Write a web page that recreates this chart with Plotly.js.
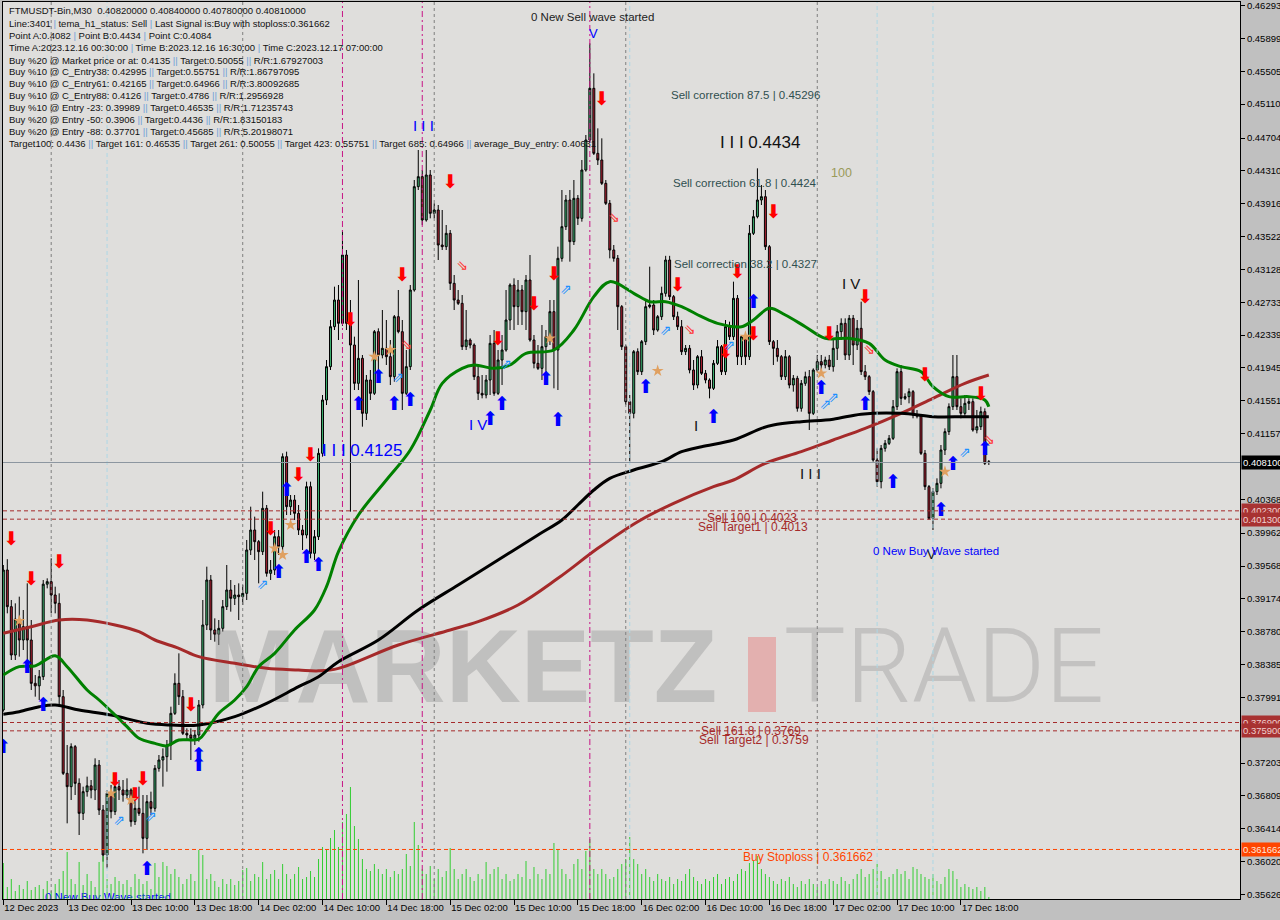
<!DOCTYPE html>
<html><head><meta charset="utf-8">
<script src="https://cdn.plot.ly/plotly-3.0.1.min.js"></script>
<style>html,body{margin:0;padding:0;background:#c0c0c0;overflow:hidden}#chart{width:1280px;height:920px}</style>
</head><body><div id="chart"></div>
<script>
// ---------- DATA ----------
const timeTickIndex = [0,16,32,48,64,80,96,112,128,144,160,176,192,208,224,240];
const timeTickLabels = ["12 Dec 2023","13 Dec 02:00","13 Dec 10:00","13 Dec 18:00","14 Dec 02:00","14 Dec 10:00","14 Dec 18:00","15 Dec 02:00","15 Dec 10:00","15 Dec 18:00","16 Dec 02:00","16 Dec 10:00","16 Dec 18:00","17 Dec 02:00","17 Dec 10:00","17 Dec 18:00"];
const priceTicks = [0.46293,0.45899,0.45505,0.45110,0.44704,0.44310,0.43916,0.43522,0.43128,0.42733,0.42339,0.41945,0.41551,0.41157,0.40368,0.39962,0.39568,0.39174,0.38780,0.38385,0.37991,0.37203,0.36809,0.36414,0.36020,0.35626];

const openP = [0.3784,0.3952,0.3908,0.3850,0.3893,0.3868,0.3884,0.3868,0.3816,0.3813,0.3824,0.3935,0.3938,0.3922,0.3912,0.3800,0.3708,0.3692,0.3740,0.3696,0.3660,0.3686,0.3693,0.3688,0.3718,0.3664,0.3610,0.3684,0.3662,0.3692,0.3688,0.3682,0.3688,0.3650,0.3666,0.3660,0.3630,0.3674,0.3666,0.3714,0.3724,0.3728,0.3742,0.3780,0.3816,0.3800,0.3756,0.3754,0.3750,0.3754,0.3790,0.3886,0.3940,0.3880,0.3875,0.3882,0.3908,0.3928,0.3918,0.3922,0.3920,0.3924,0.3976,0.4000,0.3986,0.3974,0.4026,0.3948,0.3952,0.3992,0.3980,0.4088,0.4028,0.4036,0.4020,0.4000,0.3994,0.4052,0.3972,0.3992,0.4092,0.4156,0.4196,0.4244,0.4276,0.4248,0.4330,0.4248,0.4222,0.4176,0.4206,0.4140,0.4180,0.4164,0.4238,0.4210,0.4218,0.4208,0.4184,0.4256,0.4238,0.4164,0.4196,0.4288,0.4412,0.4424,0.4372,0.4426,0.4380,0.4384,0.4342,0.4340,0.4356,0.4296,0.4276,0.4272,0.4220,0.4228,0.4222,0.4184,0.4164,0.4162,0.4180,0.4224,0.4164,0.4204,0.4216,0.4252,0.4294,0.4268,0.4288,0.4262,0.4300,0.4228,0.4200,0.4194,0.4220,0.4232,0.4262,0.4216,0.4326,0.4364,0.4396,0.4346,0.4398,0.4374,0.4432,0.4468,0.4530,0.4452,0.4444,0.4416,0.4392,0.4336,0.4326,0.4268,0.4220,0.4154,0.4140,0.4214,0.4190,0.4226,0.4268,0.4270,0.4240,0.4256,0.4284,0.4324,0.4280,0.4256,0.4244,0.4214,0.4218,0.4192,0.4174,0.4208,0.4188,0.4180,0.4170,0.4200,0.4220,0.4190,0.4244,0.4232,0.4278,0.4208,0.4232,0.4208,0.4356,0.4376,0.4396,0.4400,0.4340,0.4226,0.4218,0.4208,0.4184,0.4208,0.4174,0.4182,0.4146,0.4176,0.4184,0.4140,0.4192,0.4202,0.4198,0.4204,0.4196,0.4218,0.4238,0.4248,0.4210,0.4254,0.4222,0.4242,0.4190,0.4184,0.4166,0.4084,0.4058,0.4098,0.4104,0.4110,0.4148,0.4190,0.4158,0.4160,0.4166,0.4138,0.4137,0.4092,0.4052,0.4014,0.4046,0.4056,0.4096,0.4118,0.4148,0.4184,0.4148,0.4140,0.4152,0.4154,0.4120,0.4124,0.4142,0.4082];
const highP = [0.3958,0.3965,0.3916,0.3912,0.3920,0.3904,0.3936,0.3892,0.3826,0.3832,0.3940,0.3942,0.3966,0.3932,0.3924,0.3808,0.3742,0.3744,0.3742,0.3702,0.3692,0.3704,0.3700,0.3726,0.3724,0.3670,0.3688,0.3694,0.3698,0.3700,0.3700,0.3702,0.3690,0.3682,0.3692,0.3682,0.3682,0.3686,0.3718,0.3730,0.3738,0.3748,0.3788,0.3828,0.3852,0.3808,0.3762,0.3762,0.3760,0.3796,0.3916,0.3956,0.3946,0.3894,0.3892,0.3916,0.3958,0.3940,0.3934,0.3936,0.3934,0.3988,0.4028,0.4016,0.3988,0.4046,0.4030,0.3964,0.4000,0.4000,0.4092,0.4094,0.4042,0.4042,0.4030,0.4006,0.4058,0.4058,0.4000,0.4098,0.4162,0.4204,0.4252,0.4292,0.4294,0.4360,0.4336,0.4276,0.4232,0.4300,0.4210,0.4186,0.4192,0.4240,0.4242,0.4264,0.4252,0.4228,0.4258,0.4288,0.4252,0.4216,0.4294,0.4420,0.4456,0.4432,0.4456,0.4432,0.4392,0.4390,0.4384,0.4366,0.4360,0.4306,0.4288,0.4282,0.4264,0.4230,0.4224,0.4198,0.4186,0.4186,0.4234,0.4240,0.4216,0.4234,0.4288,0.4296,0.4302,0.4300,0.4294,0.4306,0.4330,0.4234,0.4222,0.4246,0.4240,0.4276,0.4276,0.4340,0.4408,0.4402,0.4408,0.4420,0.4402,0.4444,0.4474,0.4584,0.4548,0.4482,0.4470,0.4420,0.4396,0.4342,0.4330,0.4270,0.4222,0.4162,0.4216,0.4218,0.4228,0.4276,0.4316,0.4276,0.4258,0.4292,0.4329,0.4329,0.4282,0.4262,0.4252,0.4222,0.4222,0.4204,0.4210,0.4216,0.4192,0.4182,0.4204,0.4228,0.4222,0.4252,0.4250,0.4298,0.4282,0.4234,0.4234,0.4366,0.4384,0.4434,0.4414,0.4408,0.4342,0.4228,0.4228,0.4210,0.4216,0.4210,0.4186,0.4185,0.4180,0.4190,0.4192,0.4194,0.4210,0.4210,0.4208,0.4210,0.4228,0.4246,0.4254,0.4254,0.4258,0.4258,0.4252,0.4274,0.4198,0.4186,0.4168,0.4098,0.4102,0.4108,0.4114,0.4156,0.4194,0.4198,0.4164,0.4170,0.4168,0.4144,0.4139,0.4096,0.4054,0.4050,0.4062,0.4102,0.4122,0.4152,0.4210,0.4210,0.4158,0.4162,0.4158,0.4158,0.4144,0.4148,0.4146,0.4084];
const lowP = [0.3782,0.3900,0.3844,0.3844,0.3848,0.3856,0.3842,0.3808,0.3800,0.3796,0.3820,0.3930,0.3900,0.3900,0.3788,0.3706,0.3648,0.3676,0.3682,0.3634,0.3652,0.3680,0.3678,0.3676,0.3658,0.3602,0.3594,0.3654,0.3658,0.3676,0.3674,0.3678,0.3644,0.3646,0.3657,0.3612,0.3616,0.3658,0.3662,0.3710,0.3692,0.3710,0.3724,0.3778,0.3790,0.3754,0.3748,0.3724,0.3742,0.3746,0.3786,0.3880,0.3868,0.3866,0.3862,0.3878,0.3904,0.3902,0.3910,0.3892,0.3910,0.3916,0.3970,0.3964,0.3936,0.3970,0.3944,0.3940,0.3946,0.3970,0.3968,0.4018,0.4018,0.4012,0.3994,0.3976,0.3990,0.3966,0.3964,0.3988,0.4088,0.4150,0.4192,0.4240,0.4228,0.4245,0.4240,0.4022,0.4168,0.4168,0.4124,0.4132,0.4156,0.4162,0.4186,0.4206,0.4198,0.4174,0.4178,0.4236,0.4144,0.4162,0.4192,0.4286,0.4408,0.4366,0.4370,0.4374,0.4374,0.4324,0.4336,0.4336,0.4288,0.4264,0.4270,0.4216,0.4216,0.4218,0.4180,0.4156,0.4158,0.4158,0.4162,0.4161,0.4162,0.4174,0.4214,0.4240,0.4240,0.4246,0.4246,0.4240,0.4226,0.4194,0.4192,0.4180,0.4180,0.4222,0.4170,0.4168,0.4322,0.4360,0.4322,0.4342,0.4366,0.4370,0.4430,0.4466,0.4450,0.4438,0.4414,0.4390,0.4326,0.4322,0.4240,0.4216,0.4150,0.4082,0.4134,0.4186,0.4186,0.4222,0.4266,0.4234,0.4238,0.4252,0.4280,0.4276,0.4252,0.4240,0.4210,0.4210,0.4188,0.4168,0.4170,0.4186,0.4176,0.4158,0.4168,0.4198,0.4186,0.4186,0.4228,0.4228,0.4198,0.4198,0.4198,0.4204,0.4354,0.4374,0.4390,0.4336,0.4222,0.4198,0.4202,0.4180,0.4180,0.4170,0.4166,0.4142,0.4142,0.4173,0.4120,0.4138,0.4190,0.4190,0.4194,0.4192,0.4190,0.4204,0.4228,0.4204,0.4204,0.4198,0.4216,0.4186,0.4180,0.4162,0.4082,0.4052,0.4050,0.4094,0.4102,0.4108,0.4144,0.4150,0.4156,0.4152,0.4134,0.4134,0.4090,0.4048,0.4012,0.4000,0.4042,0.4050,0.4090,0.4114,0.4144,0.4144,0.4134,0.4137,0.4144,0.4118,0.4116,0.4120,0.4078,0.4078];
const closeP = [0.3952,0.3908,0.3850,0.3893,0.3868,0.3884,0.3868,0.3816,0.3813,0.3824,0.3935,0.3938,0.3922,0.3912,0.3800,0.3708,0.3692,0.3740,0.3696,0.3660,0.3686,0.3693,0.3688,0.3718,0.3664,0.3610,0.3684,0.3662,0.3692,0.3688,0.3682,0.3688,0.3650,0.3666,0.3660,0.3630,0.3674,0.3666,0.3714,0.3724,0.3728,0.3742,0.3780,0.3816,0.3800,0.3756,0.3754,0.3750,0.3754,0.3790,0.3886,0.3940,0.3880,0.3875,0.3882,0.3908,0.3928,0.3918,0.3922,0.3920,0.3924,0.3976,0.4000,0.3986,0.3974,0.4026,0.3948,0.3952,0.3992,0.3980,0.4088,0.4028,0.4036,0.4020,0.4000,0.3994,0.4052,0.3972,0.3992,0.4092,0.4156,0.4196,0.4244,0.4276,0.4248,0.4330,0.4248,0.4222,0.4176,0.4206,0.4140,0.4180,0.4164,0.4238,0.4210,0.4218,0.4208,0.4184,0.4256,0.4238,0.4164,0.4196,0.4288,0.4412,0.4424,0.4372,0.4426,0.4380,0.4384,0.4342,0.4340,0.4356,0.4296,0.4276,0.4272,0.4220,0.4228,0.4222,0.4184,0.4164,0.4162,0.4180,0.4224,0.4164,0.4204,0.4216,0.4252,0.4294,0.4268,0.4288,0.4262,0.4300,0.4228,0.4200,0.4194,0.4220,0.4232,0.4262,0.4216,0.4326,0.4364,0.4396,0.4346,0.4398,0.4374,0.4432,0.4468,0.4530,0.4452,0.4444,0.4416,0.4392,0.4336,0.4326,0.4268,0.4220,0.4154,0.4140,0.4214,0.4190,0.4226,0.4268,0.4270,0.4240,0.4256,0.4284,0.4324,0.4280,0.4256,0.4244,0.4214,0.4218,0.4192,0.4174,0.4208,0.4188,0.4180,0.4170,0.4200,0.4220,0.4190,0.4244,0.4232,0.4278,0.4208,0.4232,0.4208,0.4356,0.4376,0.4396,0.4400,0.4340,0.4226,0.4218,0.4208,0.4184,0.4208,0.4174,0.4182,0.4146,0.4176,0.4184,0.4140,0.4192,0.4202,0.4198,0.4204,0.4196,0.4218,0.4238,0.4248,0.4210,0.4254,0.4222,0.4242,0.4190,0.4184,0.4166,0.4084,0.4058,0.4098,0.4104,0.4110,0.4148,0.4190,0.4158,0.4160,0.4166,0.4138,0.4137,0.4092,0.4052,0.4014,0.4046,0.4056,0.4096,0.4118,0.4148,0.4184,0.4148,0.4140,0.4152,0.4154,0.4120,0.4124,0.4142,0.4080,0.4081];
const volume = [36,12,20,8,14,10,18,9, 12,14,10,18,8,15,20,28, 47,20,15,37,14,25,18,12, 37,43,20,15,22,18,15,19, 12,25,20,15,18,10,36,22, 37,33,25,30,22,15,20,25, 18,49,44,20,25,18,12,20, 15,20,14,18,29,31,18,25, 22,37,20,25,29,20,35,25, 20,25,32,20,22,28,22,40, 52,50,61,69,52,77,85,112, 73,60,40,30,28,35,30,25, 30,22,28,25,30,45,33,77, 54,30,25,33,20,30,22,28, 51,30,20,25,30,22,18,25, 20,37,25,30,32,20,25,18, 20,25,22,38,20,32,25,20, 30,25,56,50,30,25,20,35, 40,30,48,60,30,25,30,25, 20,22,30,35,40,62,40,35, 25,30,22,18,25,20,18,22, 15,20,18,25,30,22,18,15, 20,18,22,25,15,20,22,18, 25,30,28,36,38,43,30,25, 22,18,15,20,18,22,15,12, 18,15,20,15,12,18,15,20, 18,15,22,18,15,20,25,30, 22,25,30,35,28,20,22,25, 30,25,28,20,32,30,25,22, 20,25,18,15,22,30,28,20, 12,15,12,10,12,8,12,2];

// moving averages read at sample candles
const fastMaIdx = [0,4,8,13,16,21,24,28,31,34,38,41,44,49,51,54,58,61,64,68,73,78,81,84,89,96,102,107,110,115,118,123,127,131,138,143,148,152,158,162,166,170,175,179,185,188,192,196,201,206,212,217,221,225,230,233,237,242,246,247];
const fastMa = [0.3826,0.3836,0.3837,0.3849,0.3836,0.3808,0.3796,0.3778,0.3764,0.3750,0.3744,0.3741,0.3748,0.3749,0.3760,0.3780,0.3796,0.3812,0.3836,0.3852,0.3880,0.3904,0.3932,0.3974,0.4018,0.4060,0.4096,0.4144,0.4176,0.4194,0.4198,0.4194,0.4198,0.4212,0.4216,0.4240,0.4280,0.4298,0.4284,0.4274,0.4274,0.4268,0.4256,0.4248,0.4244,0.4252,0.4266,0.4258,0.4244,0.4230,0.4230,0.4224,0.4204,0.4196,0.4190,0.4172,0.4160,0.4160,0.4156,0.4148];
const midMaIdx = [0,4,9,13,19,27,36,42,49,58,66,74,79,84,94,104,114,124,134,140,144,148,152,158,165,170,175,183,190,193,200,208,215,225,233,241,247];
const midMa = [0.3779,0.3782,0.3788,0.3790,0.3784,0.3778,0.3768,0.3766,0.3766,0.3776,0.3792,0.3812,0.3824,0.3842,0.3868,0.3904,0.3934,0.3964,0.3994,0.4012,0.4030,0.4048,0.4062,0.4072,0.4082,0.4094,0.4100,0.4108,0.4122,0.4126,0.4130,0.4133,0.4139,0.4140,0.4136,0.4136,0.4136];
const slowMaIdx = [0,7,14,21,28,34,38,44,49,58,66,74,79,84,99,112,119,129,139,149,159,168,178,183,191,200,208,216,225,233,241,247];
const slowMa = [0.3876,0.3884,0.3892,0.3892,0.3886,0.3878,0.3868,0.3858,0.3848,0.3840,0.3834,0.3832,0.3831,0.3834,0.3862,0.3880,0.3890,0.3910,0.3942,0.3978,0.4010,0.4032,0.4052,0.4060,0.4080,0.4094,0.4108,0.4122,0.4140,0.4158,0.4176,0.4186];

// signal arrows
const sellArrowIdx = [2,7,14,28,33,35,47,67,74,77,87,100,112,124,133,138,150,169,181,184,188,193,207,216,231,245];
const sellArrowPrice = [0.3988,0.3940,0.3960,0.3698,0.3680,0.3700,0.3788,0.4000,0.4064,0.4088,0.4250,0.4305,0.4416,0.4228,0.4270,0.4306,0.4516,0.4292,0.4212,0.4308,0.4234,0.4380,0.4234,0.4278,0.4184,0.4162];
const buyArrowIdx = [0,6,10,36,49,49,69,71,76,79,89,94,98,102,122,125,136,139,161,178,188,205,216,223,235,238,246];
const buyArrowPrice = [0.3738,0.3834,0.3788,0.3592,0.3728,0.3716,0.3948,0.4046,0.3966,0.3956,0.4150,0.4182,0.4150,0.4154,0.4132,0.4150,0.4180,0.4130,0.4170,0.4134,0.4272,0.4169,0.4150,0.4056,0.4022,0.4078,0.4096];
const buyHollowIdx = [29,37,65,99,126,141,166,182,206,208,241];
const buyHollowPrice = [0.3650,0.3655,0.3934,0.4182,0.4198,0.4288,0.4238,0.4220,0.4150,0.4158,0.4092];
const sellHollowIdx = [101,115,153,172,217,247];
const sellHollowPrice = [0.4222,0.4316,0.4374,0.4240,0.4216,0.4108];
const starIdx = [4,27,32,68,70,72,93,97,137,164,186,205,236];
const starPrice = [0.3891,0.3684,0.3676,0.3978,0.3970,0.4006,0.4208,0.4216,0.4230,0.4191,0.4232,0.4188,0.4070];

// levels
const currentPrice = 0.4081;
const sellLevels = [0.4023,0.4013,0.3769,0.3759];
const sellLevelText = ["0.402300","0.401300","0.376900","0.375900"];
const buyStop = 0.361662;
const dayGridIdx = [12,60,108,156,204];
const waveLineIdx = [85,105,147];
const pointLineIdx = [26,157,219,233];

const infoLines = [
 "FTMUSDT-Bin,M30  0.40820000 0.40840000 0.40780000 0.40810000",
 "Line:3401 | tema_h1_status: Sell | Last Signal is:Buy with stoploss:0.361662",
 "Point A:0.4082 | Point B:0.4434 | Point C:0.4084",
 "Time A:2023.12.16 00:30:00 | Time B:2023.12.16 16:30:00 | Time C:2023.12.17 07:00:00",
 "Buy %20 @ Market price or at: 0.4135 || Target:0.50055 || R/R:1.67927003",
 "Buy %10 @ C_Entry38: 0.42995 || Target:0.55751 || R/R:1.86797095",
 "Buy %10 @ C_Entry61: 0.42165 || Target:0.64966 || R/R:3.80092685",
 "Buy %10 @ C_Entry88: 0.4126 || Target:0.4786 || R/R:1.2956928",
 "Buy %10 @ Entry -23: 0.39989 || Target:0.46535 || R/R:1.71235743",
 "Buy %20 @ Entry -50: 0.3906 || Target:0.4436 || R/R:1.83150183",
 "Buy %20 @ Entry -88: 0.37701 || Target:0.45685 || R/R:5.20198071",
 "Target100: 0.4436 || Target 161: 0.46535 || Target 261: 0.50055 || Target 423: 0.55751 || Target 685: 0.64966 || average_Buy_entry: 0.40631"
];

// ---------- LAYOUT HELPERS (pixel -> data for text placement) ----------
const PLOT_L=3, PLOT_T=2, PLOT_W=1237, PLOT_H=897;
const X_RANGE=[-0.08,309.95], Y_RANGE=[0.35572,0.46336];
const ix = px => X_RANGE[0] + (px-PLOT_L)/PLOT_W*(X_RANGE[1]-X_RANGE[0]);
const iy = py => Y_RANGE[1] - (py-PLOT_T)/PLOT_H*(Y_RANGE[1]-Y_RANGE[0]);
const FONT = "Liberation Sans, Arial, sans-serif";

const candleIdx = openP.map((_,i)=>i);

const traces = [];
// watermark (below everything)
traces.push({type:'scatter',mode:'text',x:[ix(463)],y:[iy(676)],text:['<b>MARKETZ</b>'],
  textfont:{family:FONT,size:104,color:'rgba(150,150,150,0.42)'},hoverinfo:'skip',cliponaxis:false,showlegend:false});
traces.push({type:'scatter',mode:'text',x:[ix(944)],y:[iy(676)],text:['TRADE'],
  textfont:{family:'Roboto, Liberation Sans, sans-serif',size:104,weight:300,color:'rgba(150,150,150,0.38)'},hoverinfo:'skip',cliponaxis:false,showlegend:false});
// volume
traces.push({type:'bar',x:candleIdx,y:volume,yaxis:'y2',width:0.25,marker:{color:'#32cd32',line:{width:0}},hoverinfo:'skip',showlegend:false});
// candles
traces.push({type:'candlestick',x:candleIdx,open:openP,high:highP,low:lowP,close:closeP,
  increasing:{line:{color:'#000000',width:1},fillcolor:'#3cb371'},
  decreasing:{line:{color:'#000000',width:1},fillcolor:'#b22234'},
  whiskerwidth:0,hoverinfo:'skip',showlegend:false});
// MAs
traces.push({type:'scatter',mode:'lines',x:slowMaIdx,y:slowMa,line:{color:'#a52a2a',width:3,shape:'spline'},hoverinfo:'skip',showlegend:false});
traces.push({type:'scatter',mode:'lines',x:midMaIdx,y:midMa,line:{color:'#000000',width:3,shape:'spline'},hoverinfo:'skip',showlegend:false});
traces.push({type:'scatter',mode:'lines',x:fastMaIdx,y:fastMa,line:{color:'#008000',width:3,shape:'spline'},hoverinfo:'skip',showlegend:false});
// signals
traces.push({type:'scatter',mode:'text',x:sellArrowIdx,y:sellArrowPrice,text:sellArrowIdx.map(()=>'⬇'),
  textfont:{family:'DejaVu Sans',size:19,color:'#ff0000'},hoverinfo:'skip',showlegend:false});
traces.push({type:'scatter',mode:'text',x:buyArrowIdx,y:buyArrowPrice,text:buyArrowIdx.map(()=>'⬆'),
  textfont:{family:'DejaVu Sans',size:19,color:'#0000ff'},hoverinfo:'skip',showlegend:false});
traces.push({type:'scatter',mode:'text',x:buyHollowIdx,y:buyHollowPrice,text:buyHollowIdx.map(()=>'⇗'),
  textfont:{family:'DejaVu Sans',size:14,color:'#1e90ff'},hoverinfo:'skip',showlegend:false});
traces.push({type:'scatter',mode:'text',x:sellHollowIdx,y:sellHollowPrice,text:sellHollowIdx.map(()=>'⇘'),
  textfont:{family:'DejaVu Sans',size:14,color:'#ff3030'},hoverinfo:'skip',showlegend:false});
traces.push({type:'scatter',mode:'markers',x:starIdx,y:starPrice,marker:{symbol:'star',size:9,color:'#e0a060',line:{width:0}},hoverinfo:'skip',showlegend:false});
// clipped bottom label
traces.push({type:'scatter',mode:'text',x:[ix(108)],y:[iy(898)],text:['0 New Buy Wave started'],
  textfont:{family:FONT,size:11.5,color:'#0000ff'},cliponaxis:true,hoverinfo:'skip',showlegend:false});

// ---------- SHAPES ----------
const shapes = [];
// red bar of watermark
shapes.push({type:'rect',xref:'x',yref:'y',x0:ix(748),x1:ix(776),y0:iy(712),y1:iy(637),fillcolor:'rgba(232,120,120,0.45)',line:{width:0},layer:'below'});
dayGridIdx.forEach(i=>shapes.push({type:'line',xref:'x',yref:'paper',x0:i,x1:i,y0:0,y1:1,line:{color:'#7f7f7f',width:1,dash:'3px,3px'}}));
waveLineIdx.forEach(i=>shapes.push({type:'line',xref:'x',yref:'paper',x0:i,x1:i,y0:0,y1:1,line:{color:'#c71585',width:1,dash:'6px,3px,2px,3px'}}));
pointLineIdx.forEach(i=>shapes.push({type:'line',xref:'x',yref:'paper',x0:i,x1:i,y0:0,y1:1,line:{color:'#add8e6',width:1,dash:'4px,3px'}}));
shapes.push({type:'line',xref:'paper',yref:'y',x0:0,x1:1,y0:currentPrice,y1:currentPrice,line:{color:'#8c96a0',width:1}});
sellLevels.forEach(v=>shapes.push({type:'line',xref:'paper',yref:'y',x0:0,x1:1,y0:v,y1:v,line:{color:'#a52a2a',width:1,dash:'4px,3px'}}));
shapes.push({type:'line',xref:'paper',yref:'y',x0:0,x1:1,y0:buyStop,y1:buyStop,line:{color:'#ff4500',width:1,dash:'4px,3px'}});

// ---------- ANNOTATIONS ----------
const ann = [];
const infoY = [11,24,35.7,47.7,60,71.7,83.3,95.7,107.7,119.3,131.7,144];
infoLines.forEach((t,k)=>{
  const html = t.replace(/\|/g,'<span style="color:#6f9fd8">|</span>');
  ann.push({xref:'paper',yref:'paper',x:(7-PLOT_L)/PLOT_W,y:1-(infoY[k]-PLOT_T)/PLOT_H,xanchor:'left',yanchor:'middle',
    text:html,showarrow:false,font:{family:FONT,size:9.5,color:'#111111'},align:'left'});
});
const labels = [
 ["0 New Sell wave started",592,17,11.5,'#222222'],
 ["V",593,33,13,'#0000ff'],
 ["Sell correction 87.5 | 0.45296",745,95,11.5,'#2f4f4f'],
 ["I I I 0.4434",760,142,17,'#111111'],
 ["Sell correction 61.8 | 0.4424",745,183,11.5,'#2f4f4f'],
 ["100",841,173,12.5,'#9a9a5a'],
 ["Sell correction 38.2 | 0.4327",745,264,11.5,'#2f4f4f'],
 ["I V",851,283,15,'#111111'],
 ["I I I",423,125,15,'#0000ff'],
 ["I I I 0.4125",362,450,17,'#0000ff'],
 ["I V",478,424,15,'#0000ff'],
 ["I",696,425,15,'#111111'],
 ["I I I",810,473,15,'#111111'],
 ["Sell 100 | 0.4023",752,518,12,'#a52a2a'],
 ["Sell Target1 | 0.4013",753,527,12,'#a52a2a'],
 ["V",931,554,13,'#111111'],
 ["0 New Buy Wave started",936,551,11.5,'#0000ff'],
 ["Sell 161.8 | 0.3769",751,731,12,'#a52a2a'],
 ["Sell Target2 | 0.3759",754,740,12,'#a52a2a'],
 ["Buy Stoploss | 0.361662",808,857,12,'#ff4500']
];
labels.forEach(l=>ann.push({xref:'x',yref:'y',x:ix(l[1]),y:iy(l[2]),text:l[0],showarrow:false,
  font:{family:FONT,size:l[3],color:l[4]},xanchor:'center',yanchor:'middle'}));
// price boxes on the right axis
function box(v,txt,bg,fg){ann.push({xref:'paper',yref:'y',x:1,y:v,xanchor:'left',yanchor:'middle',xshift:1,text:txt,
  showarrow:false,bgcolor:bg,borderpad:1,font:{family:FONT,size:9.5,color:fg}});}
box(currentPrice,'0.408100','#000000','#ffffff');
sellLevels.forEach((v,k)=>box(v,sellLevelText[k],'#a83232','#f0d0d0'));
box(buyStop,'0.361662','#ff4500','#ffe8dc');

const layout = {
  width:1280,height:920,
  margin:{l:PLOT_L,r:1280-PLOT_L-PLOT_W,t:PLOT_T,b:920-PLOT_T-PLOT_H,pad:0},
  paper_bgcolor:'#c0c0c0',plot_bgcolor:'#dfdedc',
  showlegend:false,hovermode:false,dragmode:false,
  xaxis:{range:X_RANGE,tickvals:timeTickIndex,ticktext:timeTickLabels,ticks:'outside',ticklen:5,tickcolor:'#000',
    tickangle:0,ticklabelposition:'outside right',ticklabeloverflow:'allow',tickfont:{family:FONT,size:9.5,color:'#000'},showgrid:false,zeroline:false,
    showline:true,linecolor:'#000',linewidth:1,mirror:true,rangeslider:{visible:false},fixedrange:true},
  yaxis:{range:Y_RANGE,side:'right',tickvals:priceTicks,ticktext:priceTicks.map(v=>v.toFixed(5)),ticks:'outside',ticklen:4,
    ticklabeloverflow:'allow',tickcolor:'#000',tickfont:{family:FONT,size:9.5,color:'#000'},showgrid:false,zeroline:false,showline:true,
    linecolor:'#000',linewidth:1,mirror:true,fixedrange:true},
  yaxis2:{overlaying:'y',range:[0,PLOT_H],visible:false,fixedrange:true},
  shapes:shapes,annotations:ann
};
Plotly.newPlot('chart',traces,layout,{staticPlot:true,displayModeBar:false});
</script></body></html>
